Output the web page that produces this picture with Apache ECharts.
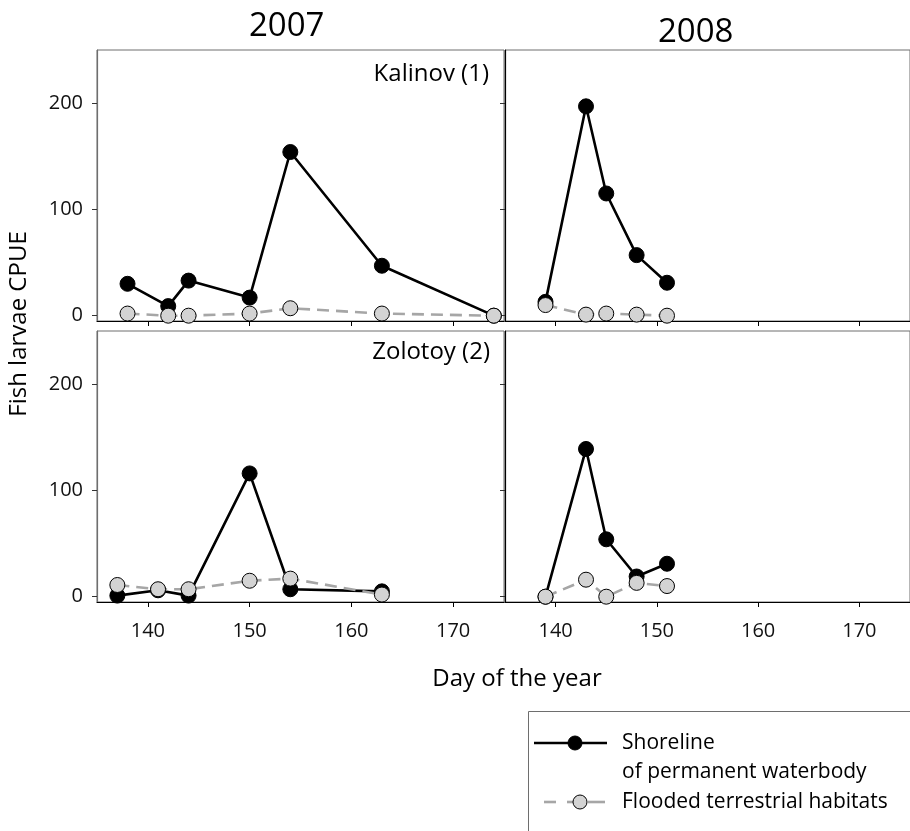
<!DOCTYPE html>
<html>
<head>
<meta charset="utf-8">
<script src="https://cdn.jsdelivr.net/npm/echarts@6/dist/echarts.min.js"></script>
<style>
html,body{margin:0;padding:0;background:#fff;}
#chart{width:910px;height:831px;}
</style>
</head>
<body>
<div id="chart"></div>
<script>
// ---- data ----
var yearTitles = ['2007', '2008'];
var siteLabels = ['Kalinov (1)', 'Zolotoy (2)'];
var seriesNames = ['Shoreline\nof permanent waterbody', 'Flooded terrestrial habitats'];
var xTickValues = [140, 150, 160, 170];
var yTickValues = [0, 100, 200];

var kalinov2007Days = [138, 142, 144, 150, 154, 163, 174];
var kalinov2007Shore = [30, 9, 33, 17, 154, 47, 0];
var kalinov2007Flood = [2, 0, 0, 2, 7, 2, 0];

var kalinov2008Days = [139, 143, 145, 148, 151];
var kalinov2008Shore = [13, 197, 115, 57, 31];
var kalinov2008Flood = [10, 1, 2, 1, 0];

var zolotoy2007Days = [137, 141, 144, 150, 154, 163];
var zolotoy2007Shore = [1, 6, 1, 116, 7, 5];
var zolotoy2007Flood = [11, 7, 7, 15, 17, 2];

var zolotoy2008Days = [139, 143, 145, 148, 151];
var zolotoy2008Shore = [0, 139, 54, 19, 31];
var zolotoy2008Flood = [0, 16, 0, 13, 10];

// ---- build ----
var FONT = '"Open Sans", "DejaVu Sans", sans-serif';
function zip(a, b) { return a.map(function (v, i) { return [v, b[i]]; }); }

var panels = [
  { days: kalinov2007Days, shore: kalinov2007Shore, flood: kalinov2007Flood, left: 97, top: 50, showY: true, showX: false },
  { days: kalinov2008Days, shore: kalinov2008Shore, flood: kalinov2008Flood, left: 505, top: 50, showY: false, showX: false },
  { days: zolotoy2007Days, shore: zolotoy2007Shore, flood: zolotoy2007Flood, left: 97, top: 331, showY: true, showX: true },
  { days: zolotoy2008Days, shore: zolotoy2008Shore, flood: zolotoy2008Flood, left: 505, top: 331, showY: false, showX: true }
];

var grids = [], xAxes = [], yAxes = [], series = [];
panels.forEach(function (p, i) {
  grids.push({ left: p.left, top: p.top, width: 407, height: 271, show: true, borderColor: '#6e6e6e', borderWidth: 1, containLabel: false });
  xAxes.push({
    type: 'value', gridIndex: i, min: 135, max: 175,
    axisLine: { show: true, onZero: false, lineStyle: { color: '#000', width: 1.2 } },
    axisTick: { show: true, length: 5, inside: false, customValues: xTickValues, lineStyle: { color: '#000' } },
    axisLabel: { show: p.showX, customValues: xTickValues, fontSize: 20, color: '#111', fontFamily: FONT, margin: 19 },
    splitLine: { show: false }
  });
  yAxes.push({
    type: 'value', gridIndex: i, min: -5, max: 250,
    axisLine: { show: true, onZero: false, lineStyle: { color: p.showY ? '#6e6e6e' : '#000', width: 1.2 } },
    axisTick: { show: true, length: 5, inside: false, customValues: yTickValues, lineStyle: { color: '#333' } },
    axisLabel: { show: p.showY, customValues: yTickValues, fontSize: 20, color: '#111', fontFamily: FONT, margin: 14 },
    splitLine: { show: false }
  });
  series.push({
    name: seriesNames[0], type: 'line', xAxisIndex: i, yAxisIndex: i,
    data: zip(p.days, p.shore), symbol: 'circle', symbolSize: 15,
    lineStyle: { color: '#000', width: 2.6 },
    itemStyle: { color: '#000', borderColor: '#000', borderWidth: 1 },
    z: 2
  });
  series.push({
    name: seriesNames[1], type: 'line', xAxisIndex: i, yAxisIndex: i,
    data: zip(p.days, p.flood), symbol: 'circle', symbolSize: 15,
    lineStyle: { color: '#a6a6a6', width: 2.6, type: [12, 7] },
    itemStyle: { color: '#d3d3d3', borderColor: '#000', borderWidth: 1 },
    z: 3
  });
});

var graphics = [
  { type: 'text', left: 249, top: 10, style: { text: yearTitles[0], font: '33px ' + FONT, fill: '#000' } },
  { type: 'text', left: 658, top: 16, style: { text: yearTitles[1], font: '33px ' + FONT, fill: '#000' } },
  { type: 'text', x: 489, y: 74, style: { text: siteLabels[0], font: '24px ' + FONT, fill: '#000', align: 'right', verticalAlign: 'middle' } },
  { type: 'text', x: 490, y: 352, style: { text: siteLabels[1], font: '24px ' + FONT, fill: '#000', align: 'right', verticalAlign: 'middle' } },
  { type: 'text', x: 517, y: 679, style: { text: 'Day of the year', font: '24px ' + FONT, fill: '#000', align: 'center', verticalAlign: 'middle' } },
  { type: 'text', x: 19, y: 324, rotation: Math.PI / 2, style: { text: 'Fish larvae CPUE', font: '24px ' + FONT, fill: '#000', align: 'center', verticalAlign: 'middle' } },
  // legend box
  { type: 'rect', shape: { x: 528.5, y: 711.5, width: 400, height: 140 }, style: { fill: 'none', stroke: '#6e6e6e', lineWidth: 1 } },
  { type: 'line', shape: { x1: 534, y1: 743, x2: 607, y2: 743 }, style: { stroke: '#000', lineWidth: 2.6 } },
  { type: 'circle', shape: { cx: 575, cy: 743, r: 7 }, style: { fill: '#000', stroke: '#000' } },
  { type: 'text', x: 622, y: 743, style: { text: 'Shoreline', font: '21px ' + FONT, fill: '#000', verticalAlign: 'middle' } },
  { type: 'text', x: 622, y: 772, style: { text: 'of permanent waterbody', font: '21px ' + FONT, fill: '#000', verticalAlign: 'middle' } },
  { type: 'line', shape: { x1: 544, y1: 802, x2: 556, y2: 802 }, style: { stroke: '#a6a6a6', lineWidth: 2.6 } },
  { type: 'line', shape: { x1: 567, y1: 802, x2: 573, y2: 802 }, style: { stroke: '#a6a6a6', lineWidth: 2.6 } },
  { type: 'line', shape: { x1: 588, y1: 802, x2: 605, y2: 802 }, style: { stroke: '#a6a6a6', lineWidth: 2.6 } },
  { type: 'circle', shape: { cx: 580, cy: 802, r: 7 }, style: { fill: '#d3d3d3', stroke: '#000', lineWidth: 1 } },
  { type: 'text', x: 622, y: 802, style: { text: seriesNames[1], font: '21px ' + FONT, fill: '#000', verticalAlign: 'middle' } }
];

var chart = echarts.init(document.getElementById('chart'), null, { renderer: 'canvas' });
chart.setOption({
  animation: false,
  backgroundColor: '#fff',
  grid: grids,
  xAxis: xAxes,
  yAxis: yAxes,
  series: series,
  graphic: graphics
});
</script>
</body>
</html>
